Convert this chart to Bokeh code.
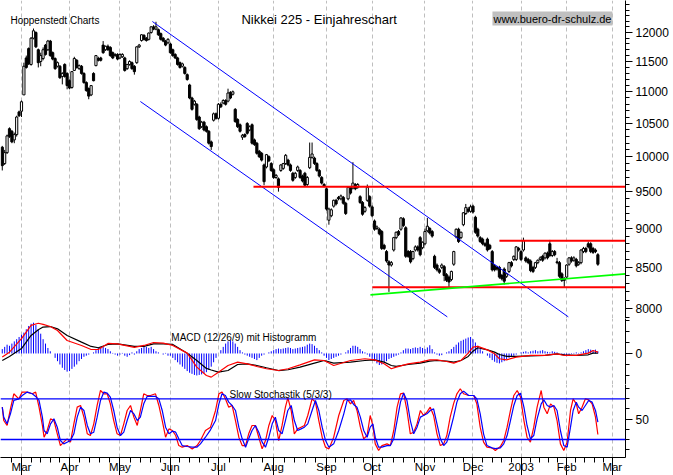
from bokeh.plotting import figure
from bokeh.models import Range1d, FixedTicker, Label, Span, PrintfTickFormatter
from bokeh.layouts import column
from bokeh.embed import file_html
from bokeh.resources import INLINE

# ---------------- data (trading-day index, 0 = 1 Mar 2002) ----------------
month_pos = [0, 20, 41, 62, 82, 105, 127, 146, 168, 188, 208, 227, 246]
month_labels = ["Mar", "Apr", "May", "Jun", "Jul", "Aug", "Sep", "Oct", "Nov", "Dec", "2003", "Feb", "Mar"]

opens = [
    10140, 9900, 10060, 10420, 10380, 10250, 10330, 10680, 10690, 10950,
    11560, 11720, 11450, 11900, 12000, 11700, 11500, 11550, 11780, 11700,
    11850, 11650, 11550, 11420, 11420, 11250, 11450, 11300, 11180, 11070,
    11350, 11520, 11380, 11420, 11300, 11150, 11050, 10950, 11300, 11430,
    11550, 11560, 11780, 11700, 11760, 11740, 11650, 11600, 11620, 11560,
    11580, 11560, 11380, 11450, 11480, 11420, 11480, 11750, 11860, 11950,
    11900, 11880, 12000, 12100, 12060, 12050, 11980, 11900, 11850, 11820,
    11800, 11700, 11620, 11560, 11480, 11420, 11400, 11280, 11110, 10900,
    10800, 10800, 10600, 10450, 10520, 10450, 10380, 10220, 10550, 10650,
    10580, 10800, 10820, 10860, 10850, 10990, 10960, 10720, 10560, 10480,
    10290, 10330, 10500, 10400, 10480, 10250, 10200, 10080, 10050, 9880,
    9850, 10000, 9900, 9810, 9700, 9680, 9800, 9830, 9900, 9950,
    9880, 9760, 9700, 9800, 9800, 9720, 9760, 9600, 9840, 9990,
    9980, 9900, 9800, 9700, 9600, 9540, 9110, 9170, 9300, 9380,
    9420, 9400, 9420, 9340, 9400, 9560, 9550, 9600, 9560, 9430,
    9350, 9230, 9380, 9430, 9290, 9100, 9000, 8990, 8960, 8780,
    8700, 8570, 8530, 8720, 8880, 8960, 8990, 9130, 9010, 8700,
    8700, 8610, 8720, 8760, 8880, 8750, 8800, 8970, 9000, 8960,
    8640, 8530, 8470, 8500, 8510, 8410, 8380, 8350, 8540, 8890,
    8990, 8880, 9050, 9200, 9260, 9230, 9300, 9150, 8990, 8880,
    8860, 8800, 8860, 8780, 8700, 8520, 8500, 8500, 8400, 8480,
    8390, 8450, 8560, 8600, 8600, 8740, 8700, 8720, 8620, 8600,
    8580, 8500, 8500, 8560, 8600, 8640, 8620, 8680, 8800, 8650,
    8700, 8570, 8560, 8420, 8360, 8380, 8540, 8620, 8590, 8600,
    8540, 8560, 8700, 8740, 8800, 8800, 8740, 8720, 8660,
]
highs = [
    10160, 10100, 10330, 10440, 10400, 10360, 10620, 10700, 10860, 11480,
    11600, 11740, 11920, 12070, 12020, 11720, 11650, 11740, 11800, 11870,
    11870, 11670, 11570, 11500, 11440, 11320, 11470, 11320, 11200, 11340,
    11580, 11540, 11450, 11440, 11320, 11170, 11070, 11110, 11320, 11610,
    11580, 11580, 11850, 11770, 11790, 11760, 11670, 11640, 11640, 11640,
    11640, 11580, 11460, 11520, 11500, 11440, 11760, 11800, 11970, 11970,
    11920, 12000, 12110, 12130, 12190, 12070, 12000, 11920, 11870, 11900,
    11820, 11720, 11640, 11580, 11500, 11480, 11420, 11300, 11130, 10920,
    10870, 10820, 10620, 10540, 10540, 10470, 10400, 10240, 10670, 10670,
    10820, 10830, 10880, 10880, 11050, 11010, 11020, 10740, 10580, 10500,
    10340, 10350, 10520, 10470, 10500, 10270, 10220, 10100, 10070, 9900,
    10040, 10020, 9920, 9830, 9750, 9700, 9890, 9910, 10040, 9970,
    9900, 9780, 9780, 9870, 9820, 9740, 9780, 9720, 10210, 10210,
    10000, 9920, 9820, 9720, 9620, 9560, 9280, 9270, 9390, 9400,
    9440, 9460, 9440, 9360, 9570, 9580, 9920, 9620, 9620, 9450,
    9370, 9300, 9600, 9450, 9310, 9120, 9040, 9010, 8980, 8800,
    8720, 8590, 8580, 8890, 8960, 8980, 9150, 9150, 9030, 8720,
    8720, 8710, 8780, 8780, 8900, 8830, 9000, 9140, 9020, 8980,
    8660, 8550, 8490, 8550, 8530, 8430, 8400, 8460, 8710, 9000,
    9010, 8960, 9220, 9330, 9290, 9320, 9320, 9170, 9010, 8900,
    8880, 8820, 8880, 8800, 8720, 8540, 8520, 8520, 8420, 8500,
    8430, 8570, 8580, 8650, 8770, 8760, 8720, 8880, 8640, 8620,
    8600, 8520, 8570, 8600, 8640, 8660, 8690, 8700, 8850, 8720,
    8720, 8620, 8580, 8440, 8380, 8540, 8630, 8640, 8640, 8620,
    8580, 8730, 8760, 8760, 8830, 8820, 8760, 8740, 8680,
]
lows = [
    9800, 9880, 10040, 10280, 10200, 10200, 10300, 10600, 10600, 10950,
    11380, 11440, 11430, 11880, 11730, 11400, 11420, 11520, 11600, 11680,
    11580, 11520, 11360, 11400, 11210, 11120, 11230, 11040, 11040, 11050,
    11340, 11380, 11360, 11280, 11130, 11000, 10880, 10930, 11170, 11420,
    11500, 11500, 11630, 11680, 11680, 11580, 11540, 11580, 11520, 11540,
    11560, 11330, 11360, 11430, 11360, 11280, 11460, 11730, 11840, 11860,
    11840, 11860, 11980, 12040, 12040, 11940, 11860, 11830, 11760, 11800,
    11630, 11580, 11540, 11430, 11380, 11400, 11280, 11180, 10880, 10700,
    10780, 10540, 10400, 10430, 10380, 10360, 10180, 10100, 10530, 10560,
    10560, 10740, 10800, 10780, 10830, 10880, 10940, 10510, 10430, 10360,
    10250, 10280, 10330, 10380, 10180, 10160, 10030, 9980, 9930, 9590,
    9830, 9920, 9780, 9680, 9680, 9500, 9780, 9810, 9880, 9860,
    9780, 9640, 9680, 9780, 9680, 9630, 9570, 9580, 9820, 9970,
    9880, 9780, 9700, 9600, 9560, 9240, 9050, 9150, 9280, 9310,
    9380, 9380, 9320, 9180, 9380, 9460, 9530, 9520, 9540, 9330,
    9170, 9210, 9360, 9280, 9150, 8970, 8980, 8910, 8720, 8720,
    8560, 8200, 8510, 8700, 8860, 8900, 8970, 9020, 8620, 8620,
    8550, 8590, 8700, 8700, 8640, 8730, 8780, 8950, 8920, 8880,
    8480, 8450, 8420, 8480, 8330, 8320, 8260, 8330, 8520, 8870,
    8810, 8860, 9030, 9180, 9210, 9210, 9200, 8930, 8880, 8810,
    8780, 8760, 8700, 8720, 8450, 8450, 8460, 8360, 8340, 8290,
    8370, 8430, 8500, 8580, 8580, 8700, 8580, 8700, 8560, 8540,
    8440, 8430, 8480, 8540, 8580, 8570, 8600, 8600, 8630, 8630,
    8640, 8540, 8370, 8320, 8260, 8360, 8520, 8560, 8570, 8500,
    8520, 8540, 8680, 8680, 8740, 8680, 8670, 8680, 8520,
]
closes = [
    9870, 10060, 10310, 10300, 10220, 10330, 10600, 10620, 10840, 11420,
    11400, 11460, 11900, 12030, 11750, 11480, 11600, 11700, 11620, 11850,
    11600, 11540, 11380, 11480, 11230, 11300, 11250, 11100, 11060, 11330,
    11550, 11400, 11430, 11300, 11150, 11020, 10930, 11100, 11180, 11600,
    11520, 11520, 11650, 11760, 11700, 11600, 11560, 11620, 11540, 11620,
    11620, 11350, 11450, 11500, 11380, 11330, 11750, 11780, 11960, 11880,
    11860, 11990, 12100, 12060, 12100, 11960, 11880, 11850, 11780, 11880,
    11650, 11600, 11560, 11450, 11400, 11460, 11300, 11200, 10900, 10720,
    10850, 10560, 10420, 10520, 10400, 10380, 10200, 10150, 10650, 10580,
    10800, 10760, 10860, 10800, 10980, 10900, 11000, 10530, 10450, 10380,
    10320, 10300, 10350, 10450, 10200, 10180, 10050, 10000, 9950, 9640,
    10030, 9940, 9800, 9700, 9730, 9560, 9880, 9900, 10020, 9880,
    9800, 9660, 9760, 9850, 9700, 9650, 9590, 9700, 9990, 10040,
    9900, 9800, 9720, 9620, 9580, 9260, 9260, 9250, 9380, 9330,
    9400, 9440, 9340, 9200, 9560, 9480, 9620, 9540, 9600, 9350,
    9190, 9280, 9560, 9300, 9170, 8990, 9020, 8930, 8740, 8740,
    8580, 8530, 8560, 8880, 8950, 8920, 9140, 9040, 8640, 8640,
    8570, 8700, 8760, 8720, 8660, 8820, 8960, 9030, 8940, 8900,
    8500, 8470, 8440, 8530, 8400, 8340, 8320, 8450, 8700, 8990,
    8830, 8950, 9210, 9280, 9230, 9290, 9220, 8950, 8900, 8830,
    8800, 8780, 8720, 8740, 8470, 8470, 8480, 8380, 8360, 8330,
    8420, 8560, 8520, 8640, 8760, 8720, 8600, 8840, 8580, 8560,
    8460, 8450, 8560, 8590, 8620, 8590, 8680, 8620, 8650, 8700,
    8660, 8560, 8390, 8340, 8340, 8530, 8620, 8580, 8620, 8520,
    8560, 8720, 8740, 8700, 8760, 8700, 8690, 8700, 8540,
]
day = list(range(-8, -8 + len(closes)))

# MACD (12/26/9): red = MACD, black = signal, sampled
macd_x = [-8, -5, 0, 4, 7, 9, 12, 15, 19, 25, 29, 32, 36, 40, 47, 51, 55, 59, 63, 69,
          73, 77, 79, 82, 86, 90, 94, 98, 102, 107, 111, 116, 122, 126, 130, 137, 143, 147, 151, 154,
          156, 161, 166, 170, 173, 177, 180, 183, 186, 188, 190, 194, 197, 199, 202, 206, 212, 218, 223, 226,
          231, 236, 238, 240]
macd_red = [-33, 12, 135, 255, 275, 264, 245, 209, 118, 73, 36, 36, 91, 88, 55, 73, 100, 94, 73, 3,
            -124, -200, -215, -170, -109, -79, -94, -118, -139, -155, -139, -103, -58, -64, -109, -64, -48, -58, -94, -139,
            -124, -94, -79, -58, -58, -73, -88, -64, 3, 58, 64, 33, -3, -48, -58, -33, -18, -18, -3, -18,
            -18, 3, 27, 12]
macd_black = [-64, -27, 45, 164, 215, 240, 245, 224, 164, 103, 64, 52, 82, 88, 64, 64, 88, 88, 82, 3,
              -64, -136, -150, -170, -155, -100, -94, -109, -130, -155, -148, -124, -88, -64, -88, -79, -64, -58, -79, -109,
              -118, -100, -88, -70, -64, -70, -79, -64, -27, 21, 52, 33, 12, -9, -27, -27, -21, -18, -3, -12,
              -18, -12, 3, 3]
macd_hist = [
    40, 60, 80, 70, 90, 110, 130, 150, 170, 190,
    220, 250, 270, 280, 260, 220, 180, 130, 90, 50,
    20, 0, -40, -70, -100, -130, -150, -165, -160, -140,
    -120, -100, -70, -50, -30, -20, -10, 0, 10, 30,
    50, 60, 60, 50, 40, 20, 5, -10, -20, -10,
    5, -20, -30, -15, 10, -10, 20, 40, 50, 60,
    60, 50, 60, 40, 20, 10, 0, -10, 5, -20,
    -20, -40, -60, -80, -100, -120, -140, -160, -175, -185,
    -195, -200, -195, -190, -180, -170, -150, -120, -80, -40,
    0, 30, 60, 90, 110, 120, 110, 90, 60, 30,
    10, -10, -20, -30, -40, -50, -60, -40, -20, -10,
    0, 10, 20, 30, 40, 45, 40, 45, 50, 55,
    50, 40, 45, 50, 55, 60, 65, 80, 90, 85,
    70, 50, 30, 10, -20, -40, -60, -50, -40, -30,
    -20, -10, 0, 10, 30, 50, 70, 70, 60, 40,
    20, 10, -10, -30, -50, -70, -90, -105, -100, -80,
    -70, -50, -40, -30, -20, -10, 10, 30, 45, 45,
    40, 50, 55, 50, 60, 50, 40, 55, 75, 40,
    10, -10, -20, -15, 0, 10, 20, 40, 60, 80,
    100, 115, 125, 135, 145, 150, 130, 100, 70, 40,
    20, 0, -20, -40, -60, -75, -85, -90, -80, -70,
    -50, -40, -30, -20, -10, 0, 10, 15, 20, 10,
    20, 25, 30, 20, 25, 30, 20, 15, 10, 20,
    15, 10, 0, -10, -20, -25, -15, -5, 5, 10,
    5, 10, 20, 30, 40, 35, 30, 35, 20,
]

# Slow stochastic (5/3/3): red = %K, blue = %D
stoch_x = [-8, -7.4, -6, -4.6, -3.2, -1.1, 0.3, 2.4, 4.5, 5.9,
           7.3, 8.7, 9.4, 10.7, 12.1, 13.5, 14.9, 16.2, 17.6, 19,
           20.4, 21.8, 23.2, 24.6, 26, 27.4, 28.7, 30.1, 31.5, 32.9,
           34.3, 35.7, 37, 38.4, 39.8, 41.2, 42.6, 44, 45.4, 46.8,
           48.2, 49.5, 50.9, 52.3, 53.7, 55.8, 57.2, 58.6, 60, 61.4,
           62.8, 64.2, 65.5, 66.9, 69, 71.1, 73.1, 74.5, 76.6, 78.7,
           80.8, 82.2, 83.5, 84.9, 86.3, 87.7, 89.1, 90.5, 91.9, 93.3,
           94.6, 96, 97.4, 98.8, 100.2, 101.6, 103, 104.4, 105.7, 107.1,
           108.5, 109.9, 110.9, 112.3, 113.6, 115, 116.4, 117.8, 119.2, 121,
           122.4, 123.8, 125.2, 126.6, 128, 130, 132.1, 134.2, 135.6, 137,
           138.3, 139.7, 141.1, 142.5, 143.9, 145.2, 146.3, 147.3, 148.7, 150.1,
           152.2, 153.6, 155, 156.4, 157.8, 159.1, 160.5, 161.9, 163.3, 164.7,
           166.1, 167.4, 168.8, 170.2, 171.6, 173, 174.4, 175.8, 177.1, 178.5,
           179.9, 181.3, 182.7, 184.1, 186.2, 188.3, 189.6, 191, 192.4, 193.8,
           195.9, 197.3, 199.4, 200.8, 202.2, 203.6, 205, 206.4, 207.8, 209.2,
           210.5, 211.9, 213.3, 214.7, 216.4, 217.5, 218.9, 220.3, 221.7, 223,
           224.4, 225.8, 227.2, 228.6, 229.7, 231, 232, 233.4, 234.8, 236.2,
           237.6, 239, 240]
stoch_k = [67.7, 48.0, 40.7, 65.3, 87.4, 80.0, 89.9, 89.9, 87.4, 89.9,
           67.7, 40.7, 23.4, 33.3, 50.5, 48.0, 28.4, 11.1, 16.1, 21.0,
           16.1, 43.1, 67.7, 70.2, 53.0, 28.4, 25.9, 43.1, 70.2, 92.3,
           87.4, 87.4, 72.6, 48.0, 28.4, 25.9, 43.1, 62.8, 70.2, 53.0,
           40.7, 62.8, 87.4, 84.9, 84.9, 87.4, 70.2, 48.0, 23.4, 35.7,
           33.3, 25.9, 11.1, 8.7, 11.1, 6.2, 11.1, 18.5, 33.3, 38.2,
           62.8, 87.4, 89.9, 80.0, 67.7, 70.2, 48.0, 23.4, 11.1, 11.1,
           28.4, 40.7, 40.7, 23.4, 6.2, 18.5, 40.7, 55.4, 48.0, 18.5,
           40.7, 67.7, 81.5, 62.8, 28.4, 35.7, 38.2, 40.7, 55.4, 80.0,
           75.1, 48.0, 23.4, 8.7, 6.2, 23.4, 55.4, 77.6, 80.0, 72.6,
           77.6, 62.8, 38.2, 21.0, 25.9, 55.4, 40.7, 13.6, 3.8, 11.1,
           13.6, 11.1, 33.3, 67.7, 87.4, 88.4, 62.8, 28.4, 30.8, 43.1,
           62.8, 55.4, 60.3, 67.7, 55.4, 28.4, 11.1, 13.6, 25.9, 53.0,
           72.6, 87.4, 94.8, 87.4, 84.9, 84.9, 72.6, 38.2, 16.1, 8.7,
           7.7, 3.8, 9.7, 18.5, 38.2, 62.8, 84.9, 92.3, 82.5, 48.0,
           23.4, 16.1, 38.2, 67.7, 92.3, 67.7, 57.9, 72.6, 67.7, 48.0,
           13.6, 3.8, 16.1, 62.8, 80.0, 72.6, 57.9, 67.7, 80.0, 78.5,
           72.6, 53.0, 27.4]
stoch_d = [67.7, 53.0, 43.1, 57.9, 77.6, 80.0, 84.9, 89.9, 87.4, 83.5,
           77.6, 53.0, 33.3, 28.4, 43.1, 50.5, 38.2, 18.5, 13.6, 16.1,
           18.5, 28.4, 53.0, 67.7, 62.8, 40.7, 28.4, 30.8, 53.0, 77.6,
           89.9, 88.4, 82.5, 62.8, 38.2, 25.9, 30.8, 48.0, 62.8, 57.9,
           48.0, 53.0, 72.6, 83.5, 83.5, 83.5, 80.0, 62.8, 38.2, 28.4,
           32.3, 30.8, 21.0, 11.1, 9.7, 8.7, 8.7, 13.6, 23.4, 34.3,
           48.0, 72.6, 87.4, 84.9, 75.1, 70.2, 62.8, 38.2, 21.0, 8.7,
           21.0, 33.3, 40.7, 30.8, 16.1, 8.7, 23.4, 43.1, 53.0, 33.3,
           28.4, 48.0, 62.8, 70.2, 48.0, 33.3, 35.7, 38.2, 43.1, 62.8,
           77.6, 62.8, 38.2, 18.5, 8.7, 13.6, 33.3, 57.9, 77.6, 78.5,
           71.7, 67.7, 53.0, 33.3, 23.4, 38.2, 43.1, 23.4, 8.7, 8.7,
           11.1, 11.1, 21.0, 48.0, 75.1, 88.4, 77.6, 48.0, 28.4, 38.2,
           53.0, 55.4, 57.9, 62.8, 65.3, 43.1, 21.0, 11.1, 16.1, 33.3,
           53.0, 75.1, 87.4, 91.3, 84.9, 84.9, 80.0, 57.9, 28.4, 11.1,
           7.7, 6.7, 7.7, 13.6, 25.9, 48.0, 70.2, 84.9, 88.4, 67.7,
           40.7, 21.0, 25.9, 50.5, 72.6, 78.5, 70.2, 67.7, 70.2, 62.8,
           33.3, 11.1, 8.7, 38.2, 62.8, 75.1, 67.7, 62.8, 70.2, 77.6,
           75.1, 62.8, 45.6]
stoch_bands = [80, 20]

# trend lines drawn on the price chart
channel_upper_x = [54.5, 227.7]
channel_upper_y = [12195, 7905]
channel_lower_x = [49.5, 177.3]
channel_lower_y = [10844, 7905]
resist_levels = [9570, 8840, 8255]
resist_start = [96.6, 199.0, 146.1]
support_x = [145.3, 251.5]
support_y = [8164, 8421]

# ---------------- layout ----------------
FONT = "Liberation Sans"
W = 673
RB = 48
X0, X1 = -8.74, 251.5
xr = Range1d(X0, X1)


def make_fig(h, yr, ytype="linear", bottom_axis=False, bb=0):
    p = figure(width=W, height=h, x_range=xr, y_range=yr, y_axis_type=ytype,
               x_axis_location="below" if bottom_axis else None, y_axis_location="right",
               output_backend="svg", toolbar_location=None,
               min_border_left=0, min_border_right=RB, min_border_top=0, min_border_bottom=bb)
    p.outline_line_color = None
    p.background_fill_color = "white"
    p.border_fill_color = "white"
    p.ygrid.visible = False
    p.xgrid.ticker = FixedTicker(ticks=month_pos)
    p.xgrid.grid_line_color = "#BEBEBE"
    p.xgrid.grid_line_dash = "4 3"
    p.xgrid.grid_line_width = 1
    ya = p.yaxis[0]
    ya.axis_line_color = "black"
    ya.major_tick_in = 0
    ya.minor_tick_in = 0
    ya.major_tick_out = 7
    ya.minor_tick_out = 4
    ya.major_tick_line_color = "black"
    ya.minor_tick_line_color = "black"
    ya.major_label_text_font = FONT
    ya.major_label_text_font_size = "12px"
    ya.major_label_text_color = "black"
    ya.major_label_standoff = 3
    ya.formatter = PrintfTickFormatter(format="%d")
    return p


# ---- price panel ----
pp = make_fig(318, Range1d(7886, 12577), ytype="log")
pp.yaxis[0].ticker = FixedTicker(ticks=list(range(8000, 12001, 500)),
                                 minor_ticks=list(range(7900, 12601, 100)))

up_x = [d for d, o, c in zip(day, opens, closes) if c >= o]
up_t = [c for o, c in zip(opens, closes) if c >= o]
up_b = [o for o, c in zip(opens, closes) if c >= o]
dn_x = [d for d, o, c in zip(day, opens, closes) if c < o]
dn_t = [o for o, c in zip(opens, closes) if c < o]
dn_b = [c for o, c in zip(opens, closes) if c < o]

pp.segment(x0=day, y0=lows, x1=day, y1=highs, line_color="black", line_width=1)
pp.vbar(x=dn_x, width=0.9, top=dn_t, bottom=dn_b, fill_color="black", line_color="black", line_width=1)
pp.vbar(x=up_x, width=0.9, top=up_t, bottom=up_b, fill_color="white", line_color="black", line_width=1)

pp.line(channel_upper_x, channel_upper_y, line_color="#0000FF", line_width=1)
pp.line(channel_lower_x, channel_lower_y, line_color="#0000FF", line_width=1)
pp.segment(x0=resist_start, y0=resist_levels, x1=[X1] * len(resist_levels), y1=resist_levels,
           line_color="#FF0000", line_width=2)
pp.line(support_x, support_y, line_color="#00FF00", line_width=1.7)

pp.add_layout(Label(x=-4.6, y=12213, text="Hoppenstedt Charts", text_font=FONT,
                    text_font_size="10px", text_color="black", text_baseline="alphabetic"))
pp.add_layout(Label(x=91.6, y=12231, text="Nikkei 225 - Einjahreschart", text_font=FONT,
                    text_font_size="13px", text_color="black", text_baseline="alphabetic"))
www = Label(x=196.1, y=12249, text="www.buero-dr-schulz.de", text_font=FONT,
            text_font_size="11px", text_color="black", text_baseline="alphabetic",
            background_fill_color="#C0C0C0")
try:
    www.padding = 1
except Exception:
    pass
pp.add_layout(www)

# ---- MACD panel ----
pm = make_fig(66, Range1d(-282, 318))
pm.yaxis[0].ticker = FixedTicker(ticks=[0], minor_ticks=[-300, -200, -100, 100, 200, 300])
hx = day[:len(macd_hist)]
pm.segment(x0=hx, y0=[0] * len(hx), x1=hx, y1=macd_hist[:len(hx)], line_color="#0000FF", line_width=1)
pm.line(macd_x, macd_black, line_color="black", line_width=1.2)
pm.line(macd_x, macd_red, line_color="#FF0000", line_width=1.2)
pm.add_layout(Label(x=62.4, y=145, text="MACD (12/26/9) mit Histogramm", text_font=FONT,
                    text_font_size="10px", text_color="black", text_baseline="alphabetic"))

# ---- stochastic panel ----
ps = make_fig(91, Range1d(-6.5, 101.1), bottom_axis=True, bb=18)
ps.yaxis[0].ticker = FixedTicker(ticks=[50], minor_ticks=[5, 20, 35, 65, 80, 95])
for lv in stoch_bands:
    ps.add_layout(Span(location=lv, dimension="width", line_color="#0000FF", line_width=1.3))
ps.line(stoch_x, stoch_k, line_color="#FF0000", line_width=1.2)
ps.line(stoch_x, stoch_d, line_color="#0000FF", line_width=1.2)
ps.add_layout(Label(x=86.6, y=86.4, text="Slow Stochastik (5/3/3)", text_font=FONT,
                    text_font_size="10px", text_color="black", text_baseline="alphabetic"))

minor_pos = [-4.0]
for a, b in zip(month_pos[:-1], month_pos[1:]):
    minor_pos += [a + (b - a) * k / 5 for k in range(1, 5)]
xa = ps.xaxis[0]
xa.ticker = FixedTicker(ticks=month_pos, minor_ticks=minor_pos)
xa.major_label_overrides = {m: t for m, t in zip(month_pos, month_labels)}
xa.axis_line_color = "black"
xa.major_tick_in = 0
xa.minor_tick_in = 0
xa.major_tick_out = 18
xa.minor_tick_out = 5
xa.major_tick_line_color = "black"
xa.minor_tick_line_color = "black"
xa.major_label_standoff = -15
xa.major_label_text_align = "left"
xa.major_label_text_font = FONT
xa.major_label_text_font_size = "11.5px"
xa.major_label_text_color = "black"

layout = column(pp, pm, ps, spacing=0)
open("out.html", "w").write(file_html(layout, INLINE))
